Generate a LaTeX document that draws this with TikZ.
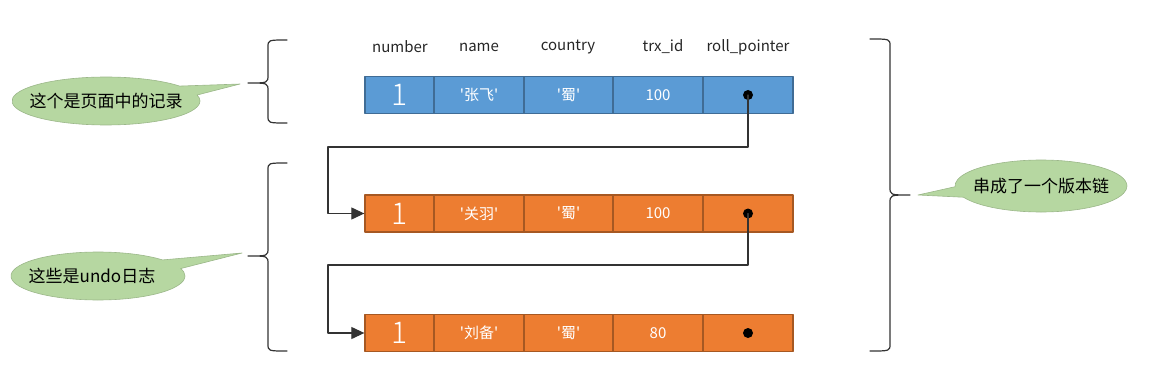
\documentclass[tikz,border=0pt]{standalone}
\usepackage{fontspec}
\setmainfont{Noto Sans CJK SC}
\newfontfamily\thinone{Noto Sans CJK SC}[UprightFont=* Light]
\usetikzlibrary{arrows.meta,shapes.callouts}

\tikzset{
  cell/.style={draw, line width=1.3pt, minimum height=37, inner sep=0pt, text=white,
    font=\fontsize{15}{18}\selectfont},
  head/.style={font=\fontsize{15}{18}\selectfont, text=black!85},
  dot/.style={circle, fill=black, inner sep=0pt, minimum size=10},
  link/.style={draw=black!80, line width=1.1pt, -{Triangle[length=13pt,width=12pt]}},
  curly/.style={draw=black!80, line width=1.2pt},
  note/.style={ellipse callout, callout pointer arc=24, fill=notegreen, draw=notegreen!85!black,
    line width=0.6pt, font=\fontsize{17}{20}\selectfont, inner xsep=-14pt, inner ysep=0pt}
}

\begin{document}
\begin{tikzpicture}[x=1pt, y=-1pt, line cap=round, line join=round]
\definecolor{rowblue}{HTML}{5B9BD5}
\definecolor{roworange}{HTML}{ED7D31}
\definecolor{notegreen}{HTML}{B6D7A1}
\useasboundingbox (0,0) rectangle (1150,382);
% ---- column headers ----
\foreach \x/\t [count=\i] in {400/number, 479/name, 568/country, 663/trx\_id, 748/roll\_pointer}
  \node[head] (head\i) at (\x,47) {\t};
% ---- the three records (page record, then two undo logs) ----
\foreach \r/\y/\c/\nm/\tid in {1/95/rowblue/张飞/100, 2/213.5/roworange/关羽/100, 3/333/roworange/刘备/80} {
  \node[cell, fill=\c, draw=\c!70!black, minimum width=69] (row\r-1) at (399.5,\y)
    {\thinone\fontsize{30}{30}\selectfont 1};
  \node[cell, fill=\c, draw=\c!70!black, minimum width=90] (row\r-2) at (479,\y)
    {\textquotesingle\nm\textquotesingle};
  \node[cell, fill=\c, draw=\c!70!black, minimum width=89] (row\r-3) at (568.5,\y)
    {\textquotesingle 蜀\textquotesingle};
  \node[cell, fill=\c, draw=\c!70!black, minimum width=90] (row\r-4) at (658,\y) {\tid};
  \node[cell, fill=\c, draw=\c!70!black, minimum width=90] (row\r-5) at (748,\y) {};
  \node[dot] (ptr\r) at (748,\y) {};
}
% ---- roll_pointer links ----
\coordinate (bend1) at (328,147);
\coordinate (bend2) at (328,265);
\draw[link] (ptr1.center) |- (bend1) |- (row2-1.west);
\draw[link] (ptr2.center) |- (bend2) |- (row3-1.west);
% ---- braces (ends x, spine x, tip x, top, middle, bottom) ----
\foreach \xe/\xv/\xt/\yt/\ym/\yb in {287/268/248/40/83/123, 287/268/248/163/256/351, 870/890/910/39/195/351}
  \draw[curly] (\xe,\yt) .. controls (\xv,\yt) .. (\xv,\yt+7) -- (\xv,\ym-8)
    .. controls (\xv,\ym) .. (\xt,\ym) .. controls (\xv,\ym) .. (\xv,\ym+8)
    -- (\xv,\yb-7) .. controls (\xv,\yb) .. (\xe,\yb);
% ---- callouts ----
\node[note, minimum width=188, minimum height=48, callout absolute pointer={(240,84)}]
  (noteRecord) at (106,101) {这个是页面中的记录};
\node[note, minimum width=174, minimum height=48, callout absolute pointer={(242,253)}]
  (noteUndo) at (98,276) {\hspace{-12pt}这些是undo日志};
\node[note, minimum width=172, minimum height=52, callout absolute pointer={(918,195)}]
  (noteChain) at (1041,186) {串成了一个版本链};
\end{tikzpicture}
\end{document}
